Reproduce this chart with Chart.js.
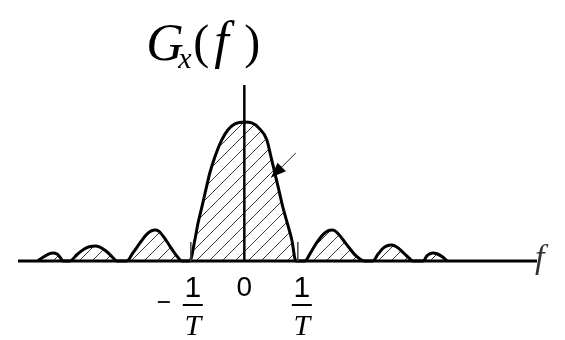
<!DOCTYPE html>
<html>
<head>
<meta charset="utf-8">
<script src="https://cdn.jsdelivr.net/npm/chart.js@4.4.1/dist/chart.umd.min.js"></script>
<style>
  html, body { margin: 0; padding: 0; background: #fff; }
  #wrap { width: 565px; height: 340px; }
</style>
</head>
<body>
<div id="wrap"><canvas id="spectrum" width="565" height="340"></canvas></div>
<script>
// frequency in units of 1/T, spectrum relative to G_x(0)
const freq = [
  -3.86, -3.75, -3.65, -3.58, -3.50, -3.44, -3.39,
  -3.26, -3.13, -3.00, -2.88, -2.79, -2.70, -2.58, -2.47, -2.38,
  -2.20, -2.08, -1.95, -1.83, -1.73, -1.67, -1.60, -1.50, -1.38, -1.26, -1.17,
  -1.02, -0.925, -0.869, -0.794, -0.72, -0.645, -0.551, -0.421, -0.308, -0.178,
  0, 0.14, 0.271, 0.421, 0.495, 0.57, 0.645, 0.72, 0.813, 0.888, 0.963,
  1.13, 1.24, 1.35, 1.47, 1.57, 1.64, 1.72, 1.83, 1.95, 2.08, 2.25,
  2.40, 2.50, 2.60, 2.70, 2.76, 2.85, 2.97, 3.07, 3.15,
  3.34, 3.42, 3.52, 3.60, 3.70, 3.79
];
const gx = [
  0, 0.03, 0.052, 0.058, 0.05, 0.025, 0,
  0, 0.045, 0.085, 0.104, 0.108, 0.10, 0.07, 0.03, 0,
  0, 0.06, 0.13, 0.19, 0.218, 0.223, 0.215, 0.17, 0.10, 0.035, 0,
  0, 0.151, 0.266, 0.388, 0.511, 0.633, 0.748, 0.871, 0.942, 0.986,
  1, 0.993, 0.957, 0.871, 0.755, 0.633, 0.511, 0.388, 0.259, 0.151, 0,
  0, 0.06, 0.13, 0.19, 0.218, 0.223, 0.21, 0.16, 0.10, 0.04, 0,
  0, 0.05, 0.095, 0.113, 0.115, 0.10, 0.06, 0.025, 0,
  0, 0.04, 0.058, 0.052, 0.03, 0
];
const tickFreqs = [-1, 0, 1];
const tickLabels = ['-1/T', '0', '1/T'];

const xRange = [-4.23, 5.47];
const yRange = [0, 1.266];

// pointer drawn onto the main lobe (tail, head) in data units
const pointer = [[0.963, 0.777], [0.50, 0.60]];

const SERIF = '"Liberation Serif", "Times New Roman", "DejaVu Serif", serif';
const SANS = '"Liberation Sans", Arial, Helvetica, sans-serif';

function text(ctx, str, px, py, font, color, align) {
  ctx.save();
  ctx.font = font;
  ctx.fillStyle = color || '#000';
  ctx.textAlign = align || 'left';
  ctx.textBaseline = 'alphabetic';
  ctx.fillText(str, px, py);
  ctx.restore();
}

// diagonal hatching under the curve, clipped to the line's own path
const hatchPlugin = {
  id: 'hatch',
  beforeDatasetsDraw(chart) {
    const { ctx, chartArea, scales: { y } } = chart;
    const line = chart.getDatasetMeta(0).dataset;
    const pts = line.points;
    if (!pts || !pts.length) return;
    const y0 = y.getPixelForValue(0);
    ctx.save();
    ctx.beginPath();
    line.path(ctx);
    ctx.lineTo(pts[pts.length - 1].x, y0);
    ctx.lineTo(pts[0].x, y0);
    ctx.closePath();
    ctx.clip();
    ctx.strokeStyle = '#3a3a3a';
    ctx.lineWidth = 1;
    ctx.beginPath();
    const step = 13;
    const h = chartArea.bottom - chartArea.top + 20;
    for (let sx = chartArea.left - h; sx < chartArea.right + h; sx += step) {
      ctx.moveTo(sx, chartArea.bottom + 10);
      ctx.lineTo(sx + h, chartArea.bottom + 10 - h);
    }
    ctx.stroke();
    ctx.restore();
  }
};

const axesPlugin = {
  id: 'spectrumAxes',
  afterDatasetsDraw(chart) {
    const { ctx, scales: { x, y } } = chart;
    const y0 = y.getPixelForValue(0);
    const x0 = x.getPixelForValue(0);

    // G_x(f)
    text(ctx, 'G', x0 - 98, 60, 'italic 52px ' + SERIF);
    text(ctx, 'x', x0 - 66, 68, 'italic 30px ' + SERIF);
    text(ctx, '(', x0 - 51, 58, '48px ' + SERIF);
    text(ctx, 'f', x0 - 30, 58, 'italic 52px ' + SERIF);
    text(ctx, ')', x0, 58, '48px ' + SERIF);

    // axis name
    text(ctx, 'f', x.getPixelForValue(xRange[1]) - 2, y0 + 7, 'italic 34px ' + SERIF, '#333');

    // tick labels, fractions stacked as 1 over T
    tickFreqs.forEach((v, i) => {
      const px = x.getPixelForValue(v);
      const label = tickLabels[i];
      if (label.includes('/')) {
        const neg = label.startsWith('-');
        const [num, den] = label.replace('-', '').split('/');
        const cx = px + (neg ? 2 : 4);
        text(ctx, num, cx, y0 + 36, '30px ' + SANS, '#000', 'center');
        text(ctx, den, cx, y0 + 74, 'italic 30px ' + SERIF, '#000', 'center');
      } else {
        text(ctx, label, px, y0 + 35, '28px ' + SANS, '#000', 'center');
      }
    });

    ctx.save();
    ctx.strokeStyle = '#000';
    ctx.fillStyle = '#000';

    // f axis
    ctx.lineWidth = 3;
    ctx.beginPath();
    ctx.moveTo(x.getPixelForValue(xRange[0]), y0);
    ctx.lineTo(x.getPixelForValue(xRange[1]), y0);
    ctx.stroke();

    // vertical axis
    ctx.lineWidth = 2.5;
    ctx.beginPath();
    ctx.moveTo(x0, y.getPixelForValue(yRange[1]));
    ctx.lineTo(x0, y0);
    ctx.stroke();

    // tick marks, fraction bars and minus sign
    tickFreqs.forEach((v, i) => {
      if (v === 0) return;
      const px = x.getPixelForValue(v);
      const neg = tickLabels[i].startsWith('-');
      const cx = px + (neg ? 2 : 4);
      ctx.strokeStyle = '#444';
      ctx.lineWidth = 1.5;
      ctx.beginPath();
      ctx.moveTo(px, y0 - 19);
      ctx.lineTo(px, y0);
      ctx.stroke();
      ctx.strokeStyle = '#000';
      ctx.lineWidth = 2;
      ctx.beginPath();
      ctx.moveTo(cx - 10, y0 + 44);
      ctx.lineTo(cx + 10, y0 + 44);
      ctx.stroke();
      if (neg) {
        ctx.lineWidth = 1.8;
        ctx.beginPath();
        ctx.moveTo(cx - 35, y0 + 41);
        ctx.lineTo(cx - 23, y0 + 41);
        ctx.stroke();
      }
    });

    // pointer with arrow head
    const [t, h] = pointer.map(p => [x.getPixelForValue(p[0]), y.getPixelForValue(p[1])]);
    const ang = Math.atan2(h[1] - t[1], h[0] - t[0]);
    ctx.strokeStyle = '#222';
    ctx.lineWidth = 1;
    ctx.beginPath();
    ctx.moveTo(t[0], t[1]);
    ctx.lineTo(h[0], h[1]);
    ctx.stroke();
    ctx.beginPath();
    ctx.moveTo(h[0], h[1]);
    ctx.lineTo(h[0] - 15 * Math.cos(ang) + 6 * Math.sin(ang), h[1] - 15 * Math.sin(ang) - 6 * Math.cos(ang));
    ctx.lineTo(h[0] - 15 * Math.cos(ang) - 6 * Math.sin(ang), h[1] - 15 * Math.sin(ang) + 6 * Math.cos(ang));
    ctx.closePath();
    ctx.fill();
    ctx.restore();
  }
};

new Chart(document.getElementById('spectrum').getContext('2d'), {
  type: 'line',
  data: {
    datasets: [{
      data: freq.map((f, i) => ({ x: f, y: gx[i] })),
      borderColor: '#000',
      borderWidth: 3,
      fill: false,
      pointRadius: 0,
      cubicInterpolationMode: 'monotone',
      clip: false
    }]
  },
  options: {
    responsive: false,
    animation: false,
    layout: { padding: { left: 18, right: 28, top: 85, bottom: 79 } },
    plugins: { legend: { display: false }, tooltip: { enabled: false } },
    scales: {
      x: { type: 'linear', min: xRange[0], max: xRange[1], display: false },
      y: { type: 'linear', min: yRange[0], max: yRange[1], display: false }
    }
  },
  plugins: [hatchPlugin, axesPlugin]
});
</script>
</body>
</html>
